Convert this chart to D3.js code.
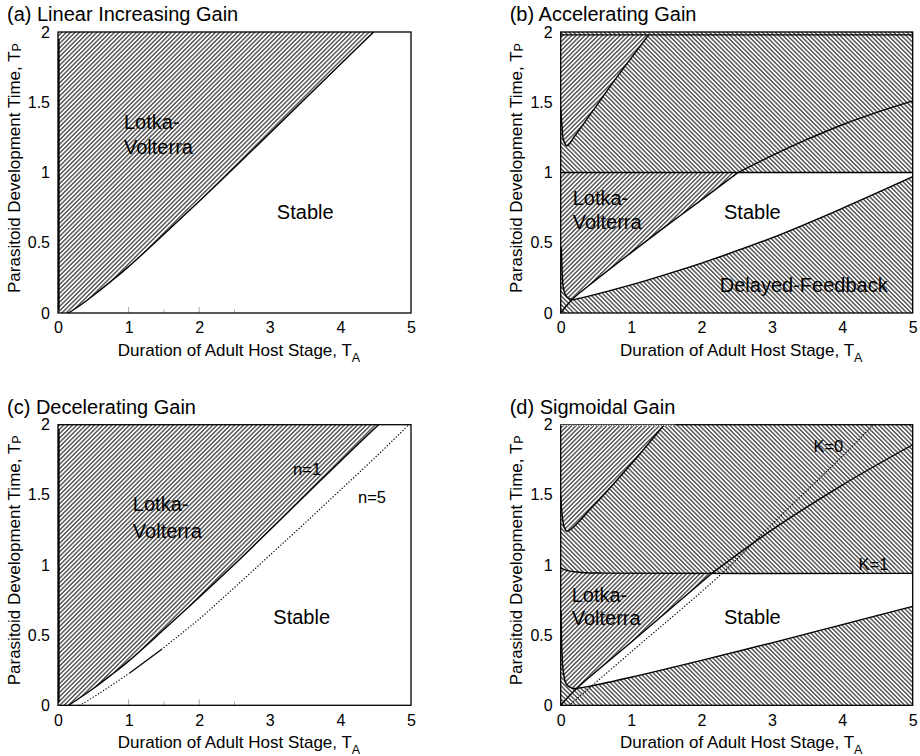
<!DOCTYPE html>
<html>
<head>
<meta charset="utf-8">
<script src="https://cdn.jsdelivr.net/npm/d3@7"></script>
<style>
  body { margin: 0; background: #fff; }
  svg { display: block; }
  text { font-family: "Liberation Sans", Arial, Helvetica, sans-serif; fill: #000; }
</style>
</head>
<body>
<svg id="fig" width="920" height="756"></svg>
<script>
// ---- axes ----
const xTicks = [0, 1, 2, 3, 4, 5];
const xTickLabels = ["0", "1", "2", "3", "4", "5"];
const yTicks = [0, 0.5, 1, 1.5, 2];
const yTickLabels = ["0", "0.5", "1", "1.5", "2"];
const innerTicks = [1, 1.5, 2, 2.5];

// ---- (a) linear increasing gain ----
const aBoundary = [[0.146,0],[0.3,0.05],[0.5,0.125],[0.75,0.225],[1,0.33],[1.5,0.56],[2,0.795],[2.5,1.035],[3,1.28],[3.5,1.525],[4,1.77],[4.47,2]];
const aEdge = [[0.012,0.02],[0.012,0.94],[0.018,0.96],[0.012,0.98],[0.012,1.95]];

// ---- (b) accelerating gain ----
const bTop = [[0,1.98],[5,1.98]];
const bMid = [[0,1],[5,1]];
const bUpperLV = [[0.0,1.46],[0.02,1.32],[0.04,1.23],[0.09,1.19],[0.2,1.26],[0.5,1.47],[0.8,1.68],[1.25,1.98]];
const bLVLine = [[0,0],[0.16,0.095],[0.5,0.235],[1,0.43],[1.5,0.62],[2,0.805],[2.52,1]];
const bLowerLV = [[0.01,0.47],[0.02,0.3],[0.04,0.17],[0.085,0.115],[0.17,0.093]];
const bDF = [[0.17,0.093],[0.4,0.12],[1,0.2],[1.5,0.275],[2,0.355],[3,0.535],[4,0.745],[5,0.97]];
const bUpperCurve = [[2.52,1],[3,1.12],[3.5,1.235],[4,1.34],[4.5,1.43],[5,1.51]];

// ---- (c) decelerating gain ----
const cN1 = [[0.15,0],[0.3,0.05],[0.5,0.12],[0.75,0.215],[1,0.315],[1.5,0.54],[2,0.77],[2.5,1.005],[3,1.25],[3.5,1.495],[4,1.74],[4.54,2]];
const cN5Low = [[0.31,0],[0.6,0.09],[1.02,0.232]];
const cN5Solid = [[1.02,0.232],[1.47,0.40]];
const cN5High = [[1.47,0.40],[2,0.615],[2.5,0.84],[3,1.07],[3.5,1.30],[4,1.535],[4.5,1.77],[4.97,2]];
const cEdge = [[0.012,0.02],[0.012,0.95],[0.018,0.97],[0.012,0.99],[0.012,1.97]];

// ---- (d) sigmoidal gain ----
const dK1 = [[0,0.98],[0.1,0.96],[0.3,0.947],[0.6,0.942],[5,0.94]];
const dUpperLV = [[0.0,1.5],[0.02,1.36],[0.05,1.27],[0.09,1.24],[0.46,1.42],[1.0,1.72],[1.47,2]];
const dLVLine = [[0,0],[0.23,0.121],[1.0,0.45],[2.145,0.94]];
const dLowerLV = [[0.005,0.67],[0.02,0.35],[0.037,0.24],[0.08,0.15],[0.156,0.123],[0.23,0.121]];
const dDF = [[0.23,0.121],[0.4,0.135],[1,0.2],[2,0.32],[3,0.445],[4,0.575],[5,0.705]];
const dUpperLine = [[2.145,0.94],[3,1.25],[4,1.57],[5,1.857]];
const dK0 = [[0.12,0],[1,0.38],[2.29,0.94],[3,1.29],[4.11,1.83],[4.44,2]];
const dK0Top = [[0,1.995],[1.62,1.995]];

const svg = d3.select("#fig");
const defs = svg.append("defs");

// diagonal hatching: "/" for Lotka-Volterra cycles, "\" for delayed-feedback cycles
function hatch(id, angle) {
  const s = 3.1;
  const p = defs.append("pattern")
    .attr("id", id)
    .attr("patternUnits", "userSpaceOnUse")
    .attr("width", s).attr("height", s)
    .attr("patternTransform", `rotate(${angle})`);
  p.append("rect").attr("width", s).attr("height", s).attr("fill", "#fff");
  p.append("line")
    .attr("x1", s / 2).attr("y1", -1).attr("x2", s / 2).attr("y2", s + 1)
    .attr("stroke", "#111").attr("stroke-width", 1.05);
}
hatch("hatchLV", 45);
hatch("hatchDF", -45);

const font = { title: 20, axis: 17, tick: 16, region: 20, note: 16.5 };

// straight pieces of a region outline are wrapped so they stay polylines
const S = pts => ({ straight: pts });

function makePanel(box, title) {
  const g = svg.append("g");
  const x = d3.scaleLinear().domain([0, 5]).range([box.left, box.right]);
  const y = d3.scaleLinear().domain([0, 2]).range([box.bottom, box.top]);
  const smooth = d3.line().x(d => x(d[0])).y(d => y(d[1])).curve(d3.curveCatmullRom.alpha(0.5));
  const poly = d3.line().x(d => x(d[0])).y(d => y(d[1]));

  g.append("rect")
    .attr("x", box.left).attr("y", box.top)
    .attr("width", box.right - box.left).attr("height", box.bottom - box.top)
    .attr("fill", "#fff");

  const regions = g.append("g");
  const lines = g.append("g");
  const labels = g.append("g");

  // region outlines are chained pieces; later pieces continue the same path
  function region(pieces, pattern) {
    const d = pieces.map((pc, i) => {
      const s = pc.straight ? poly(pc.straight) : smooth(pc);
      return i === 0 ? s : s.replace(/^M/, "L");
    }).join("") + "Z";
    regions.append("path").attr("d", d).attr("fill", `url(#${pattern})`).attr("stroke", "none");
  }

  function line(pts, opts = {}) {
    lines.append("path")
      .attr("d", opts.straight ? poly(pts) : smooth(pts))
      .attr("fill", "none")
      .attr("stroke", "#000")
      .attr("stroke-width", opts.width || 1.4)
      .attr("stroke-dasharray", opts.dash || null)
      .attr("stroke-linecap", opts.dash ? "round" : "butt");
  }

  function label(text, tx, ty, size) {
    labels.append("text")
      .attr("x", x(tx)).attr("y", y(ty))
      .attr("dy", "0.35em")
      .attr("font-size", size || font.region)
      .text(text);
  }

  function finish(frameLines) {
    // light inner ticks along the bottom edge
    g.selectAll(".itick").data(innerTicks).join("line")
      .attr("x1", d => x(d)).attr("x2", d => x(d))
      .attr("y1", box.bottom).attr("y2", d => box.bottom - (Number.isInteger(d) ? 6 : 3.5))
      .attr("stroke", "#aaa").attr("stroke-width", 1);

    g.append("rect")
      .attr("x", box.left).attr("y", box.top)
      .attr("width", box.right - box.left).attr("height", box.bottom - box.top)
      .attr("fill", "none").attr("stroke", "#000").attr("stroke-width", 1.3);

    if (frameLines) frameLines();

    const xa = g.append("g").attr("transform", `translate(0,${box.bottom})`)
      .call(d3.axisBottom(x).tickValues(xTicks).tickSize(0).tickPadding(9)
        .tickFormat((d, i) => xTickLabels[i]));
    const ya = g.append("g").attr("transform", `translate(${box.left},0)`)
      .call(d3.axisLeft(y).tickValues(yTicks).tickSize(0).tickPadding(8)
        .tickFormat((d, i) => yTickLabels[i]));
    [xa, ya].forEach(a => {
      a.select(".domain").remove();
      a.selectAll("text").attr("font-size", font.tick)
        .attr("font-family", '"Liberation Sans", Arial, sans-serif').attr("fill", "#000");
    });

    const xt = g.append("text")
      .attr("x", (box.left + box.right) / 2 + 4.5)
      .attr("y", box.bottom + 43)
      .attr("text-anchor", "middle")
      .attr("font-size", font.axis);
    xt.append("tspan").text("Duration of Adult Host Stage, T");
    xt.append("tspan").attr("dy", 5.5).attr("font-size", 12.5).text("A");

    const cy = box.bottom - 20;
    const yt = g.append("text")
      .attr("transform", `translate(${box.left - 38.5},${cy}) rotate(-90)`)
      .attr("font-size", font.axis);
    yt.append("tspan").text("Parasitoid Development Time, T");
    yt.append("tspan").attr("dy", 1).attr("font-size", 12.5).text("P");

    g.append("text")
      .attr("x", box.left - 51).attr("y", box.top - 11)
      .attr("font-size", font.title)
      .text(title);
  }

  return { x, y, g, region, line, label, finish };
}

// ---------- (a) ----------
{
  const p = makePanel({ left: 58, right: 411, top: 32, bottom: 313 }, "(a) Linear Increasing Gain");
  p.region([S([[0, 2], [0, 0]]), aBoundary], "hatchLV");
  p.line(aBoundary);
  p.line(aEdge, { width: 1.6, straight: true });
  p.label("Lotka-", 0.935, 1.36);
  p.label("Volterra", 0.935, 1.18);
  p.label("Stable", 3.10, 0.72);
  p.finish();
}

// ---------- (b) ----------
{
  const p = makePanel({ left: 560.7, right: 912.7, top: 32, bottom: 313 }, "(b) Accelerating Gain");
  p.region([S([[0, 2], [5, 2], [5, 1], [0, 1]])], "hatchDF");
  p.region([S([[0, 1.98], [1.25, 1.98]]), bUpperLV.slice().reverse()], "hatchLV");
  p.region([S([[0, 1], [2.52, 1]]), bLVLine.slice(1).reverse(), bLowerLV.slice().reverse(), S([[0.01, 0.47], [0, 0.47]])], "hatchLV");
  p.region([S([[0, 0], [0, 0.47]]), bLowerLV, bDF, S([[5, 0.97], [5, 0]])], "hatchDF");
  p.line(bTop, { width: 1.2, straight: true });
  p.line(bMid, { straight: true });
  p.line(bUpperLV);
  p.line(bLVLine);
  p.line(bLowerLV);
  p.line(bDF);
  p.line(bUpperCurve);
  p.label("Lotka-", 0.17, 0.816);
  p.label("Volterra", 0.17, 0.65);
  p.label("Stable", 2.32, 0.72);
  p.label("Delayed-Feedback", 2.26, 0.2);
  p.finish();
}

// ---------- (c) ----------
{
  const p = makePanel({ left: 58, right: 411, top: 424.7, bottom: 705.3 }, "(c) Decelerating Gain");
  p.region([S([[0, 2], [0, 0]]), cN1], "hatchLV");
  p.line(cN1);
  p.line(cEdge, { width: 1.6, straight: true });
  p.line(cN5Low, { width: 1.3, dash: "0.1,3" });
  p.line(cN5Solid, { width: 1.3 });
  p.line(cN5High, { width: 1.3, dash: "0.1,3" });
  p.label("Lotka-", 1.06, 1.435);
  p.label("Volterra", 1.06, 1.245);
  p.label("n=1", 3.33, 1.68, font.note);
  p.label("n=5", 4.25, 1.48, font.note);
  p.label("Stable", 3.05, 0.627);
  p.finish();
}

// ---------- (d) ----------
{
  const p = makePanel({ left: 560.7, right: 912.7, top: 424.7, bottom: 705.3 }, "(d) Sigmoidal Gain");
  p.region([S([[0, 2], [5, 2], [5, 0.94]]), dK1.slice().reverse()], "hatchDF");
  p.region([S([[0, 2], [1.47, 2]]), dUpperLV.slice().reverse()], "hatchLV");
  p.region([dK1.slice(0, 4), S([[0.6, 0.942], [2.145, 0.94]]), dLVLine.slice(1).reverse(),
            dLowerLV.slice().reverse(), S([[0.005, 0.67], [0, 0.67]])], "hatchLV");
  p.region([S([[0, 0], [0, 0.67]]), dLowerLV, dDF, S([[5, 0.705], [5, 0]])], "hatchDF");
  p.line(dK1);
  p.line(dUpperLV);
  p.line(dLVLine);
  p.line(dLowerLV);
  p.line(dDF);
  p.line(dUpperLine);
  p.line(dK0, { width: 1.3, dash: "0.1,3" });
  p.label("K=0", 3.59, 1.846, font.note);
  p.label("K=1", 4.23, 1.002, font.note);
  p.label("Lotka-", 0.156, 0.788);
  p.label("Volterra", 0.156, 0.622);
  p.label("Stable", 2.32, 0.627);
  // along the top edge the K=0 boundary runs on the frame, shown as a pale dotted run
  p.finish(() => {
    p.g.append("path")
      .attr("d", d3.line().x(d => p.x(d[0])).y(d => p.y(d[1]))(dK0Top))
      .attr("stroke", "#fff").attr("stroke-width", 1.4).attr("fill", "none");
    p.g.append("path")
      .attr("d", d3.line().x(d => p.x(d[0])).y(d => p.y(d[1]))(dK0Top))
      .attr("stroke", "#444").attr("stroke-width", 1.3).attr("fill", "none")
      .attr("stroke-dasharray", "1,1.5");
  });
}
</script>
</body>
</html>
